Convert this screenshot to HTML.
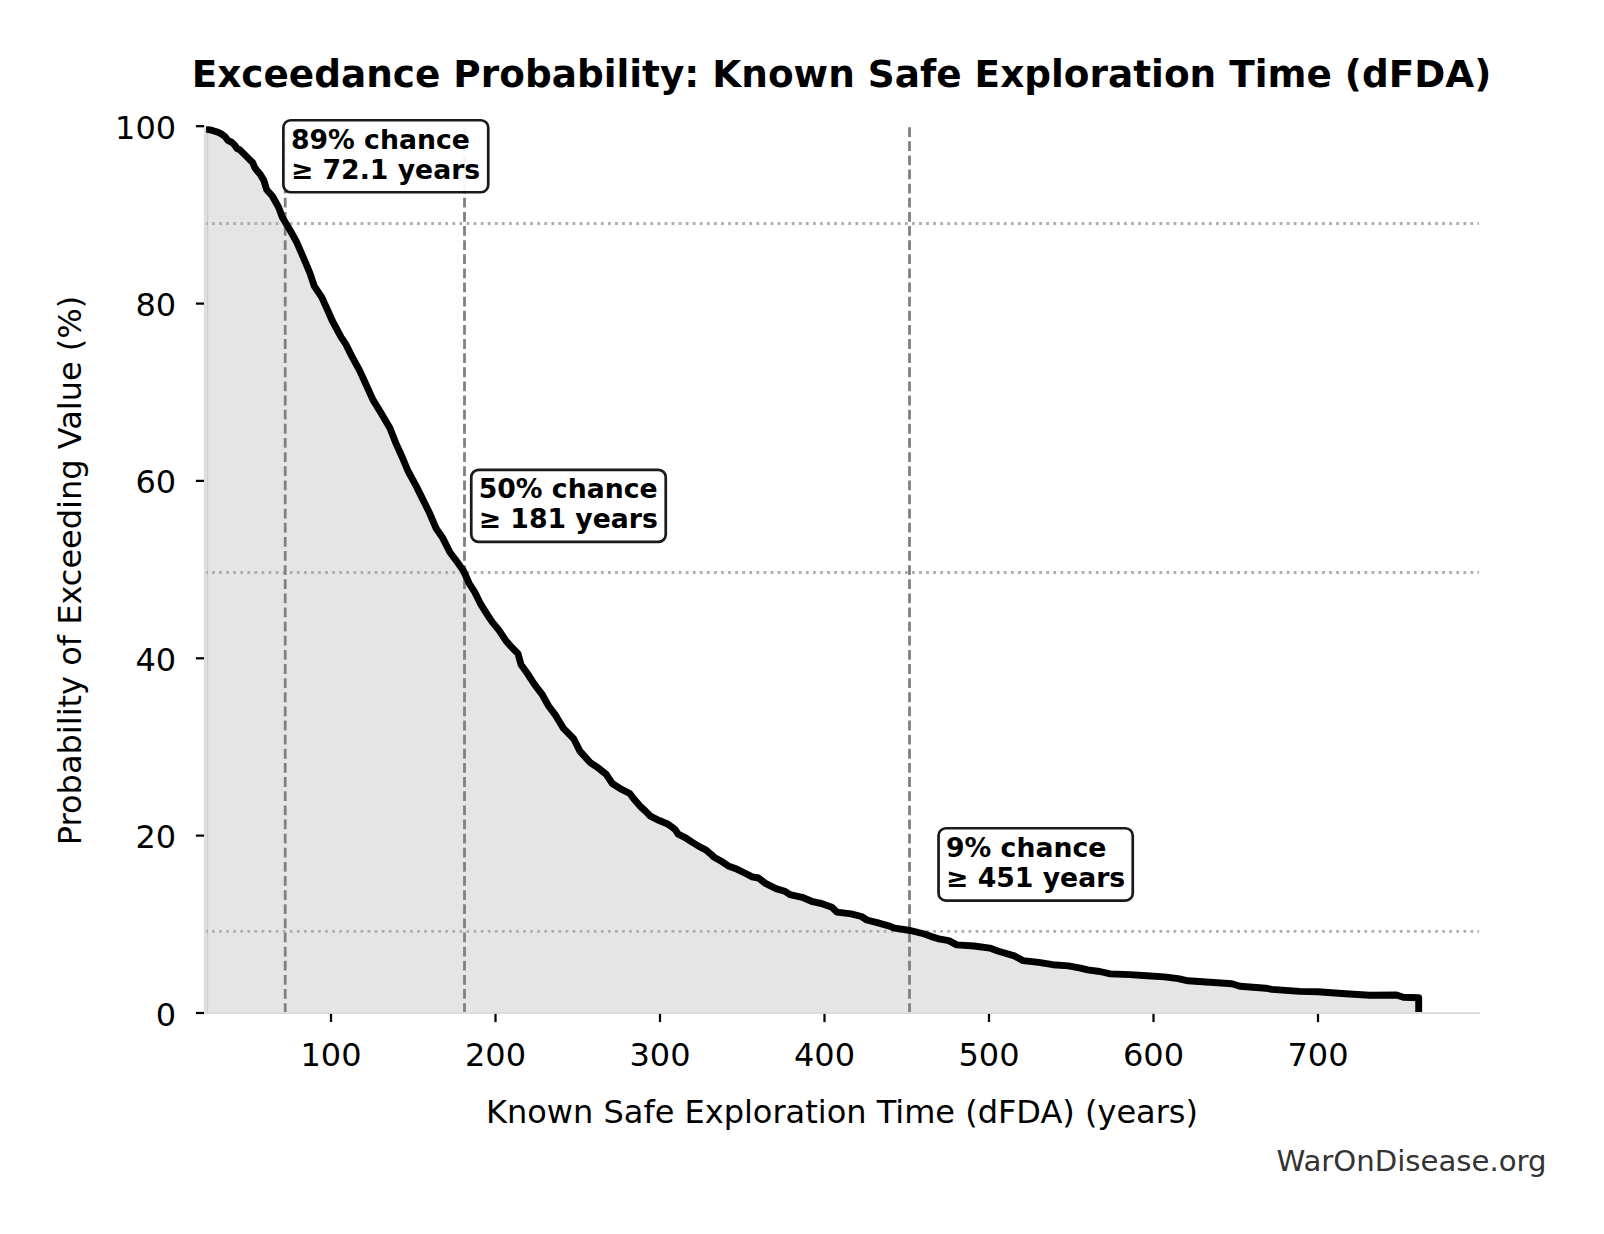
<!DOCTYPE html><html><head><meta charset="utf-8"><title>Exceedance Probability</title>
<style>html,body{margin:0;padding:0;background:#fff}svg{display:block}text{font-family:"DejaVu Sans","Liberation Sans",sans-serif;fill:#000}</style></head><body>
<svg width="1604" height="1234" viewBox="0 0 1604 1234">
<rect width="1604" height="1234" fill="#fff"/>
<defs><clipPath id="ax"><rect x="205.0" y="126.2" width="1274.0" height="886.8"/></clipPath></defs>
<path d="M206.8 1013.0 L206.8 129.4 L206.8 129.4 L210.0 129.7 L216.5 131.7 L220.9 133.7 L224.9 136.5 L227.9 140.4 L231.9 142.4 L234.9 145.4 L236.9 148.4 L239.9 149.9 L242.9 152.9 L246.9 156.9 L249.9 159.9 L252.9 162.9 L254.4 166.9 L256.9 170.4 L259.9 173.9 L263.6 179.8 L266.7 189.8 L272.3 196.0 L278.6 207.3 L282.3 217.2 L289.8 229.7 L296.2 241.2 L303.1 256.8 L309.9 273.0 L314.3 286.1 L321.8 297.3 L328.0 311.0 L332.4 321.0 L341.1 337.2 L346.1 344.7 L352.3 357.2 L359.8 370.9 L366.8 386.2 L373.0 399.9 L379.9 411.1 L389.9 428.0 L395.5 442.3 L401.7 456.0 L408.0 471.0 L416.1 485.9 L422.3 498.4 L428.7 511.2 L436.2 528.6 L442.4 537.4 L449.9 552.3 L457.4 562.3 L463.6 571.0 L469.2 583.5 L474.8 592.2 L481.0 604.7 L487.3 614.7 L492.3 622.1 L498.7 629.9 L506.2 641.1 L512.4 648.0 L518.0 653.6 L521.1 664.8 L527.4 673.5 L534.8 684.8 L542.3 694.7 L548.6 706.0 L556.0 715.9 L563.5 728.4 L573.7 738.7 L579.9 751.1 L589.9 762.3 L597.4 767.3 L606.1 774.2 L612.3 783.5 L621.1 789.2 L629.8 793.5 L633.5 798.5 L640.0 806.1 L645.2 810.9 L650.5 816.2 L658.7 820.3 L667.7 824.0 L675.2 829.6 L678.2 834.1 L685.6 837.9 L692.4 842.4 L699.8 846.9 L705.8 849.8 L711.1 854.3 L714.1 857.3 L722.3 861.8 L728.3 865.9 L737.3 869.3 L744.7 873.0 L752.2 876.8 L758.5 878.0 L765.5 883.4 L776.0 888.6 L784.7 891.2 L790.0 894.7 L802.2 897.3 L812.7 901.7 L821.4 903.5 L831.9 907.3 L837.1 912.2 L851.1 913.9 L861.5 916.5 L866.8 920.0 L877.2 922.7 L889.5 926.1 L894.7 928.2 L910.4 930.5 L924.4 934.0 L931.4 936.6 L940.1 939.2 L948.8 940.6 L956.7 944.9 L974.1 946.0 L989.8 948.1 L998.5 951.2 L1014.3 955.9 L1023.0 960.6 L1038.7 962.4 L1052.7 964.7 L1068.4 965.9 L1080.6 968.1 L1087.6 969.9 L1099.8 971.5 L1110.3 973.9 L1129.5 974.6 L1146.9 975.7 L1164.4 976.9 L1178.3 978.6 L1188.0 980.8 L1209.9 982.2 L1231.9 983.8 L1239.9 986.2 L1265.8 988.2 L1271.8 989.4 L1299.7 991.4 L1317.7 991.8 L1345.6 993.8 L1369.5 995.2 L1396.5 995.0 L1403.4 997.3 L1418.7 997.7 L1418.7 1013.0 Z" fill="#e5e5e5" clip-path="url(#ax)"/>
<rect x="205.4" y="128.2" width="1.4" height="884.8" fill="#e5e5e5"/>
<rect x="206.8" y="131.2" width="1.4" height="881.8" fill="#cecece"/>
<line x1="205.0" y1="223.5" x2="1479.0" y2="223.5" stroke="#adadad" stroke-width="2.8" stroke-dasharray="2.7 4.37"/>
<line x1="205.0" y1="572.5" x2="1479.0" y2="572.5" stroke="#adadad" stroke-width="2.8" stroke-dasharray="2.7 4.37"/>
<line x1="205.0" y1="931.4" x2="1479.0" y2="931.4" stroke="#adadad" stroke-width="2.8" stroke-dasharray="2.7 4.37"/>
<line x1="285.2" y1="1013.0" x2="285.2" y2="126.2" stroke="#808080" stroke-width="2.8" stroke-dasharray="9.8 4.33"/>
<line x1="464.5" y1="1013.0" x2="464.5" y2="126.2" stroke="#808080" stroke-width="2.8" stroke-dasharray="9.8 4.33"/>
<line x1="909.5" y1="1013.0" x2="909.5" y2="126.2" stroke="#808080" stroke-width="2.8" stroke-dasharray="9.8 4.33"/>
<path d="M204.0 129.2 L206.8 129.4 L210.0 129.7 L216.5 131.7 L220.9 133.7 L224.9 136.5 L227.9 140.4 L231.9 142.4 L234.9 145.4 L236.9 148.4 L239.9 149.9 L242.9 152.9 L246.9 156.9 L249.9 159.9 L252.9 162.9 L254.4 166.9 L256.9 170.4 L259.9 173.9 L263.6 179.8 L266.7 189.8 L272.3 196.0 L278.6 207.3 L282.3 217.2 L289.8 229.7 L296.2 241.2 L303.1 256.8 L309.9 273.0 L314.3 286.1 L321.8 297.3 L328.0 311.0 L332.4 321.0 L341.1 337.2 L346.1 344.7 L352.3 357.2 L359.8 370.9 L366.8 386.2 L373.0 399.9 L379.9 411.1 L389.9 428.0 L395.5 442.3 L401.7 456.0 L408.0 471.0 L416.1 485.9 L422.3 498.4 L428.7 511.2 L436.2 528.6 L442.4 537.4 L449.9 552.3 L457.4 562.3 L463.6 571.0 L469.2 583.5 L474.8 592.2 L481.0 604.7 L487.3 614.7 L492.3 622.1 L498.7 629.9 L506.2 641.1 L512.4 648.0 L518.0 653.6 L521.1 664.8 L527.4 673.5 L534.8 684.8 L542.3 694.7 L548.6 706.0 L556.0 715.9 L563.5 728.4 L573.7 738.7 L579.9 751.1 L589.9 762.3 L597.4 767.3 L606.1 774.2 L612.3 783.5 L621.1 789.2 L629.8 793.5 L633.5 798.5 L640.0 806.1 L645.2 810.9 L650.5 816.2 L658.7 820.3 L667.7 824.0 L675.2 829.6 L678.2 834.1 L685.6 837.9 L692.4 842.4 L699.8 846.9 L705.8 849.8 L711.1 854.3 L714.1 857.3 L722.3 861.8 L728.3 865.9 L737.3 869.3 L744.7 873.0 L752.2 876.8 L758.5 878.0 L765.5 883.4 L776.0 888.6 L784.7 891.2 L790.0 894.7 L802.2 897.3 L812.7 901.7 L821.4 903.5 L831.9 907.3 L837.1 912.2 L851.1 913.9 L861.5 916.5 L866.8 920.0 L877.2 922.7 L889.5 926.1 L894.7 928.2 L910.4 930.5 L924.4 934.0 L931.4 936.6 L940.1 939.2 L948.8 940.6 L956.7 944.9 L974.1 946.0 L989.8 948.1 L998.5 951.2 L1014.3 955.9 L1023.0 960.6 L1038.7 962.4 L1052.7 964.7 L1068.4 965.9 L1080.6 968.1 L1087.6 969.9 L1099.8 971.5 L1110.3 973.9 L1129.5 974.6 L1146.9 975.7 L1164.4 976.9 L1178.3 978.6 L1188.0 980.8 L1209.9 982.2 L1231.9 983.8 L1239.9 986.2 L1265.8 988.2 L1271.8 989.4 L1299.7 991.4 L1317.7 991.8 L1345.6 993.8 L1369.5 995.2 L1396.5 995.0 L1403.4 997.3 L1418.7 997.7 L1418.7 1016.0" fill="none" stroke="#000" stroke-width="6.9" stroke-linejoin="round" stroke-linecap="butt" clip-path="url(#ax)"/>
<line x1="205.00" y1="125.10" x2="205.00" y2="1014.10" stroke="#dddddd" stroke-width="2.2"/>
<line x1="203.90" y1="1013.00" x2="1480.10" y2="1013.00" stroke="#dddddd" stroke-width="2.2"/>
<line x1="331.0" y1="1013.9" x2="331.0" y2="1022.1" stroke="#000" stroke-width="2.25"/>
<text x="331.0" y="1065.5" font-size="32" text-anchor="middle">100</text>
<line x1="495.5" y1="1013.9" x2="495.5" y2="1022.1" stroke="#000" stroke-width="2.25"/>
<text x="495.5" y="1065.5" font-size="32" text-anchor="middle">200</text>
<line x1="660.0" y1="1013.9" x2="660.0" y2="1022.1" stroke="#000" stroke-width="2.25"/>
<text x="660.0" y="1065.5" font-size="32" text-anchor="middle">300</text>
<line x1="824.5" y1="1013.9" x2="824.5" y2="1022.1" stroke="#000" stroke-width="2.25"/>
<text x="824.5" y="1065.5" font-size="32" text-anchor="middle">400</text>
<line x1="989.0" y1="1013.9" x2="989.0" y2="1022.1" stroke="#000" stroke-width="2.25"/>
<text x="989.0" y="1065.5" font-size="32" text-anchor="middle">500</text>
<line x1="1153.5" y1="1013.9" x2="1153.5" y2="1022.1" stroke="#000" stroke-width="2.25"/>
<text x="1153.5" y="1065.5" font-size="32" text-anchor="middle">600</text>
<line x1="1318.0" y1="1013.9" x2="1318.0" y2="1022.1" stroke="#000" stroke-width="2.25"/>
<text x="1318.0" y="1065.5" font-size="32" text-anchor="middle">700</text>
<line x1="195.9" y1="1013.0" x2="204.0" y2="1013.0" stroke="#000" stroke-width="2.25"/>
<text x="176.2" y="1025.9" font-size="32" text-anchor="end">0</text>
<line x1="195.9" y1="835.6" x2="204.0" y2="835.6" stroke="#000" stroke-width="2.25"/>
<text x="176.2" y="847.8" font-size="32" text-anchor="end">20</text>
<line x1="195.9" y1="658.3" x2="204.0" y2="658.3" stroke="#000" stroke-width="2.25"/>
<text x="176.2" y="670.7" font-size="32" text-anchor="end">40</text>
<line x1="195.9" y1="480.9" x2="204.0" y2="480.9" stroke="#000" stroke-width="2.25"/>
<text x="176.2" y="493.3" font-size="32" text-anchor="end">60</text>
<line x1="195.9" y1="303.6" x2="204.0" y2="303.6" stroke="#000" stroke-width="2.25"/>
<text x="176.2" y="316.0" font-size="32" text-anchor="end">80</text>
<line x1="195.9" y1="126.2" x2="204.0" y2="126.2" stroke="#000" stroke-width="2.25"/>
<text x="176.2" y="138.6" font-size="32" text-anchor="end">100</text>
<text x="841.5" y="86.9" font-size="37.4" font-weight="bold" text-anchor="middle">Exceedance Probability: Known Safe Exploration Time (dFDA)</text>
<text x="842" y="1122.9" font-size="32" text-anchor="middle">Known Safe Exploration Time (dFDA) (years)</text>
<text transform="translate(81.1 570.5) rotate(-90)" font-size="32" text-anchor="middle">Probability of Exceeding Value (%)</text>
<text x="1546.5" y="1170.9" font-size="29.17" text-anchor="end" style="fill:#333">WarOnDisease.org</text>
<rect x="283.35" y="120.25" width="204.90" height="72.00" rx="7.3" ry="7.3" fill="#fff" fill-opacity="0.92" stroke="#1a1a1a" stroke-width="2.7"/>
<text x="290.9" y="148.8" font-size="26.7" font-weight="bold">89% chance</text>
<text x="290.9" y="179.2" font-size="26.7" font-weight="bold">≥ 72.1 years</text>
<rect x="471.25" y="469.85" width="194.50" height="72.05" rx="7.3" ry="7.3" fill="#fff" fill-opacity="0.92" stroke="#1a1a1a" stroke-width="2.7"/>
<text x="478.7" y="497.7" font-size="26.7" font-weight="bold">50% chance</text>
<text x="478.7" y="528.1" font-size="26.7" font-weight="bold">≥ 181 years</text>
<rect x="938.55" y="828.25" width="194.20" height="72.30" rx="7.3" ry="7.3" fill="#fff" fill-opacity="0.92" stroke="#1a1a1a" stroke-width="2.7"/>
<text x="946.0" y="857.0" font-size="26.7" font-weight="bold">9% chance</text>
<text x="946.0" y="886.5" font-size="26.7" font-weight="bold">≥ 451 years</text>
</svg></body></html>
